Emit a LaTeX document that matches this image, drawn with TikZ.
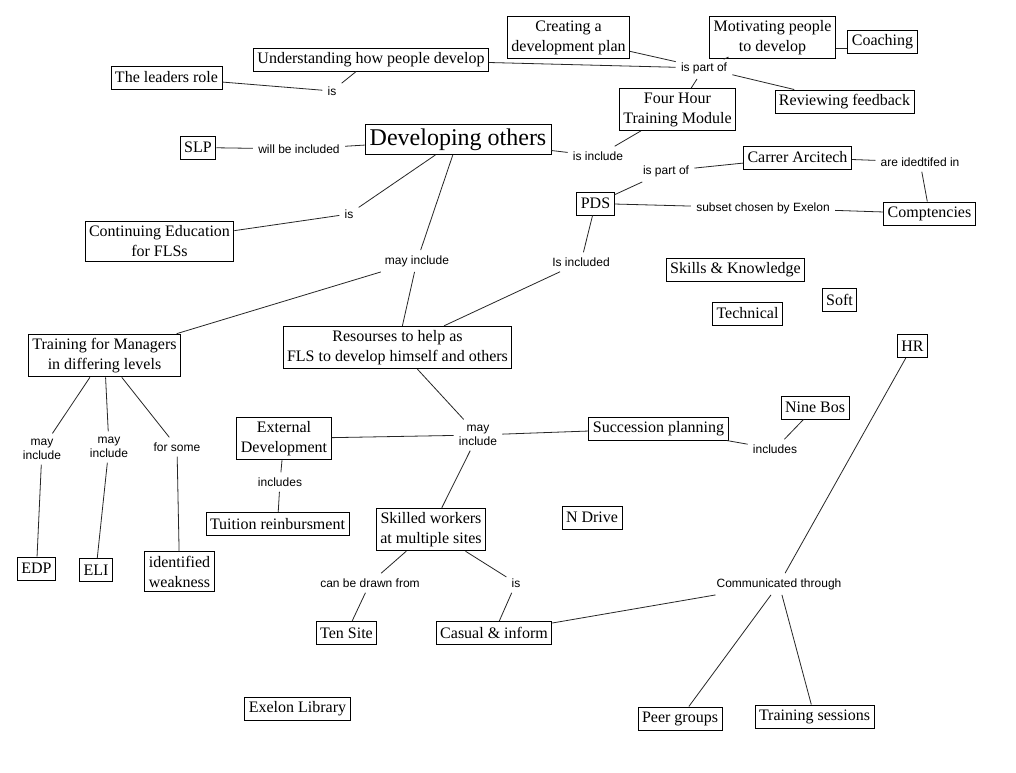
\documentclass[tikz,border=0pt]{standalone}
\usepackage{fontspec}
\setmainfont{Liberation Serif}
\newfontfamily\lblfont{Liberation Sans}
\usetikzlibrary{positioning}

\begin{document}
\begin{tikzpicture}[x=0.75pt,y=-0.75pt,
  concept/.style={draw,line width=0.7pt,inner xsep=3pt,inner ysep=3pt,minimum height=17.3pt,align=center,font=\fontsize{12}{15}\selectfont},
  linkword/.style={inner sep=1pt,outer sep=3pt,align=center,font=\lblfont\fontsize{9}{10.5}\selectfont},
  link/.style={line width=0.6pt,black!85}]

  % Rahmen
  \fill[white] (0,0) rectangle (1016,772);
  \useasboundingbox (0,0) rectangle (1016,772);

  % Begriffe oben
  \node[concept] (underst) at (371,59.5) {Understanding how people develop};
  \node[concept] (leaders) at (166.5,77.5) {The leaders role};
  \node[concept] (creating) at (568.5,37.5) {Creating a\\development plan};
  \node[concept] (motiv) at (772.5,37.5) {Motivating people\\to develop};
  \node[concept] (coach) at (882.5,41.5) {Coaching};
  \node[concept] (fourhr) at (677.5,109.5) {Four Hour\\Training Module};
  \node[concept] (review) at (844.5,101.5) {Reviewing feedback};
  \node[concept,font=\fontsize{18}{21}\selectfont,inner ysep=3pt,inner xsep=3.5pt] (devel) at (458,139.5) {Developing others};
  \node[concept] (slp) at (198,147.5) {SLP};
  \node[concept] (carrer) at (797.5,157.5) {Carrer Arcitech};
  \node[concept] (pds) at (595.5,203.5) {PDS};
  \node[concept] (compt) at (929.5,213.5) {Comptencies};
  \node[concept] (contedu) at (159.5,241.5) {Continuing Education\\for FLSs};
  \node[concept] (skills) at (735.5,269.5) {Skills \& Knowledge};
  \node[concept] (soft) at (839.5,299.5) {Soft};
  \node[concept] (techn) at (747.5,313.5) {Technical};

  % Begriffe Mitte
  \node[concept] (trainmgr) at (104.5,355.5) {Training for Managers\\in differing levels};
  \node[concept] (resour) at (397.5,347.5) {Resourses to help as\\FLS to develop himself and others};
  \node[concept] (hr) at (912.5,346) {HR};
  \node[concept] (ninebos) at (815,407.5) {Nine Bos};
  \node[concept] (extdev) at (284,438.5) {External\\Development};
  \node[concept] (succ) at (658.5,428.5) {Succession planning};
  \node[concept] (tuition) at (277.5,524) {Tuition reinbursment};
  \node[concept] (skilled) at (431,529.5) {Skilled workers\\at multiple sites};
  \node[concept] (ndrive) at (592,517.5) {N Drive};

  % Begriffe unten
  \node[concept] (edp) at (36.5,568.5) {EDP};
  \node[concept] (eli) at (96,570) {ELI};
  \node[concept] (weak) at (179.5,571.5) {identified\\weakness};
  \node[concept] (tensite) at (346.5,633) {Ten Site};
  \node[concept] (casual) at (494,633) {Casual \& inform};
  \node[concept] (library) at (297.5,709) {Exelon Library};
  \node[concept] (peer) at (680,718.5) {Peer groups};
  \node[concept] (trainses) at (814.5,716.5) {Training sessions};

  % Verbindungswörter
  \node[linkword] (isA) at (332,91) {is};
  \node[linkword] (partA) at (704,68) {is part of};
  \node[linkword] (willbe) at (299,149) {will be included};
  \node[linkword] (incl) at (598,156) {is include};
  \node[linkword] (partB) at (666,171) {is part of};
  \node[linkword] (areid) at (920,162) {are idedtifed in};
  \node[linkword] (subset) at (763,208) {subset chosen by Exelon};
  \node[linkword] (isB) at (349,214) {is};
  \node[linkword] (mayA) at (417,261) {may include};
  \node[linkword] (isincl) at (581,262) {Is included};
  \node[linkword] (mayB) at (42,449) {may\\include};
  \node[linkword] (mayC) at (109,447) {may\\include};
  \node[linkword] (forsome) at (177,447) {for some};
  \node[linkword] (mayD) at (478,435) {may\\include};
  \node[linkword] (inclB) at (775,449) {includes};
  \node[linkword] (inclA) at (280,482) {includes};
  \node[linkword] (drawn) at (370,583) {can be drawn from};
  \node[linkword] (isC) at (516,583) {is};
  \node[linkword] (comm) at (779,584) {Communicated through};

  % Linien
  \foreach \a/\b in {leaders/isA, isA/underst,
      underst/partA, creating/partA, motiv/partA, partA/review, partA/fourhr,
      fourhr/incl, incl/devel, slp/willbe, willbe/devel,
      devel/isB, isB/contedu, devel/mayA, mayA/trainmgr, mayA/resour,
      carrer/partB, partB/pds, carrer/areid, areid/compt,
      pds/subset, subset/compt, pds/isincl, isincl/resour,
      trainmgr/mayB, mayB/edp, trainmgr/mayC, mayC/eli, trainmgr/forsome, forsome/weak,
      resour/mayD, mayD/extdev, mayD/succ, mayD/skilled,
      extdev/inclA, inclA/tuition, succ/inclB, inclB/ninebos,
      skilled/drawn, drawn/tensite, skilled/isC, isC/casual,
      hr/comm, comm/casual, comm/peer, comm/trainses}
    \draw[link] (\a) -- (\b);
  \coordinate (motivR) at ([yshift=-8.5pt]motiv.east);
  \draw[link] (motivR) -- (coach.west |- motivR);
\end{tikzpicture}
\end{document}
